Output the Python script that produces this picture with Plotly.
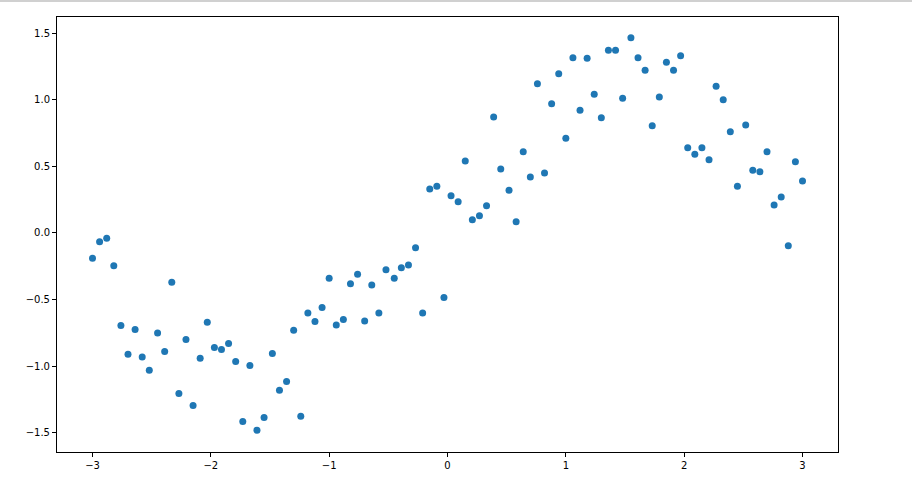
import plotly.graph_objects as go

# x samples (evenly spaced from -3 to 3, 100 points)
x_vals = [
    -3.0, -2.94, -2.88, -2.82, -2.76, -2.70, -2.64, -2.58, -2.52, -2.45,
    -2.39, -2.33, -2.27, -2.21, -2.15, -2.09, -2.03, -1.97, -1.91, -1.85,
    -1.79, -1.73, -1.67, -1.61, -1.55, -1.48, -1.42, -1.36, -1.30, -1.24,
    -1.18, -1.12, -1.06, -1.0, -0.94, -0.88, -0.82, -0.76, -0.70, -0.64,
    -0.58, -0.52, -0.45, -0.39, -0.33, -0.27, -0.21, -0.15, -0.09, -0.03,
    0.03, 0.09, 0.15, 0.21, 0.27, 0.33, 0.39, 0.45, 0.52, 0.58,
    0.64, 0.70, 0.76, 0.82, 0.88, 0.94, 1.0, 1.06, 1.12, 1.18,
    1.24, 1.30, 1.36, 1.42, 1.48, 1.55, 1.61, 1.67, 1.73, 1.79,
    1.85, 1.91, 1.97, 2.03, 2.09, 2.15, 2.21, 2.27, 2.33, 2.39,
    2.45, 2.52, 2.58, 2.64, 2.70, 2.76, 2.82, 2.88, 2.94, 3.0,
]

y_vals = [
    -0.19, -0.065, -0.04, -0.245, -0.695, -0.91, -0.725, -0.93, -1.03, -0.75,
    -0.89, -0.37, -1.205, -0.80, -1.295, -0.94, -0.67, -0.86, -0.875, -0.83,
    -0.965, -1.415, -0.995, -1.48, -1.385, -0.905, -1.18, -1.115, -0.73, -1.375,
    -0.60, -0.665, -0.56, -0.34, -0.69, -0.65, -0.38, -0.31, -0.66, -0.39,
    -0.60, -0.275, -0.34, -0.26, -0.24, -0.11, -0.60, 0.33, 0.35, -0.485,
    0.28, 0.235, 0.54, 0.10, 0.13, 0.205, 0.87, 0.48, 0.32, 0.085,
    0.61, 0.42, 1.12, 0.45, 0.97, 1.195, 0.71, 1.315, 0.92, 1.31,
    1.04, 0.865, 1.37, 1.37, 1.01, 1.465, 1.315, 1.22, 0.805, 1.02,
    1.28, 1.22, 1.33, 0.64, 0.59, 0.64, 0.55, 1.10, 1.00, 0.76,
    0.35, 0.81, 0.47, 0.46, 0.61, 0.21, 0.27, -0.095, 0.535, 0.39,
]

x_ticks = [-3, -2, -1, 0, 1, 2, 3]
y_ticks = [-1.5, -1.0, -0.5, 0.0, 0.5, 1.0, 1.5]

fig = go.Figure()
fig.add_trace(
    go.Scatter(
        x=x_vals,
        y=y_vals,
        mode="markers",
        marker=dict(color="#1f77b4", size=7, line=dict(width=0)),
        showlegend=False,
    )
)

axis_style = dict(
    showgrid=False,
    zeroline=False,
    showline=True,
    linecolor="black",
    linewidth=1,
    mirror=True,
    ticks="outside",
    ticklen=4,
    tickcolor="black",
    tickfont=dict(family="DejaVu Sans", size=10, color="black"),
)

fig.update_layout(
    width=912,
    height=494,
    margin=dict(l=57, r=74, t=17, b=42),
    paper_bgcolor="white",
    plot_bgcolor="white",
    xaxis=dict(
        range=[-3.3, 3.3],
        tickvals=x_ticks,
        ticktext=[str(t).replace("-", "\u2212") for t in x_ticks],
        **axis_style,
    ),
    yaxis=dict(
        range=[-1.643, 1.62],
        tickvals=y_ticks,
        ticktext=[f"{t:.1f}".replace("-", "\u2212") for t in y_ticks],
        **axis_style,
    ),
)

# faint separator line at the very top of the page
fig.add_shape(
    type="line",
    xref="paper",
    yref="paper",
    x0=-57 / 781,
    x1=855 / 781,
    y0=1 + 16 / 435,
    y1=1 + 16 / 435,
    line=dict(color="#d0d0d0", width=2),
)

# drop the browser's default body margin so the figure sits at the page corner
fig.write_html(
    "out.html",
    config={"displayModeBar": False},
    post_script="document.body.style.margin='0';",
)
